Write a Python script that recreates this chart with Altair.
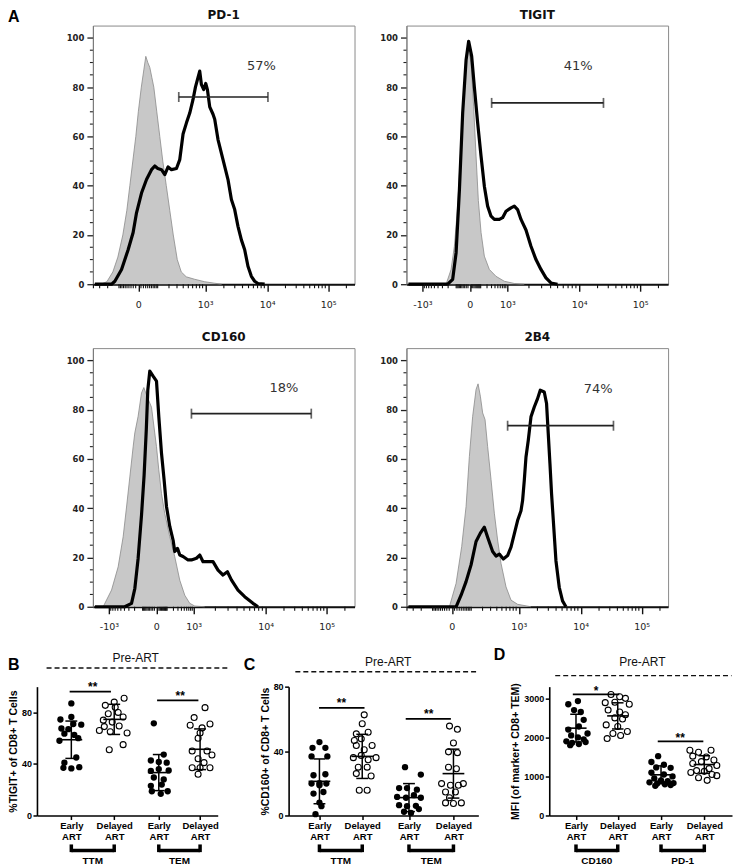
import altair as alt
import pandas as pd
import numpy as np

SANS = "Liberation Sans"
FLOW = "DejaVu Sans"

# ---------------- Panel A: flow histograms (x = display channel of the plot, y = % of max) ----------------
PD1_ISO_CH = [8, 14, 20, 25, 30, 34, 37, 40, 43, 45.5, 48.5, 51, 53, 55, 57, 59, 61, 64, 67, 70, 73.5, 77, 80.5, 84.5, 88.5, 93.5, 102, 112, 122, 129]
PD1_ISO_Y = [0, 1, 5, 11, 20, 30, 40, 50, 60, 70, 80, 87, 92.5, 90, 88, 84, 80, 70, 60, 50, 40, 30, 20, 10, 5, 3, 2, 1, 0.4, 0]
PD1_CH = [2, 18.7, 22, 28.7, 35.3, 40.3, 43.7, 48.7, 53.7, 58.7, 62, 65, 68.7, 72, 75.3, 78.7, 83.7, 87, 90.3, 93.7,
          97, 100.3, 102.7, 105.3, 107, 108.7, 111, 113, 114.7, 117, 120.3, 122, 125.3, 130.3, 135.3, 138.7, 142, 145.3,
          148.7, 152, 155.3, 158.7, 162, 165.3, 172]
PD1_Y = [0, 0, 1.2, 6, 14, 21, 29, 37, 42.5, 46.5, 48, 47, 46.5, 44.5, 47.6, 46.5, 47, 50.6, 61, 65.5,
         69.5, 75, 80, 84, 86.5, 81, 79, 81.5, 79, 72, 69, 67, 58.7, 50.6, 42.5, 34.4, 30.3, 23.5,
         18, 14, 7.3, 3.2, 1.2, 0.3, 0]

TIGIT_ISO_CH = [39.7, 44.7, 48, 51.3, 54, 56.3, 58.7, 61.3, 64.7, 67.3, 69.7, 72, 74.7, 78, 83, 89.7, 98, 108, 118]
TIGIT_ISO_Y = [0, 6, 15.4, 31.7, 52, 72, 86, 96.6, 90, 72, 52, 34, 21, 11.4, 6, 3.2, 1.2, 0.3, 0]
TIGIT_CH = [2, 38, 41.3, 46.3, 49.7, 53, 56.3, 59.7, 62.3, 65.3, 68, 71.3, 74.7, 78, 81.3, 84.7, 88, 93, 96.3, 99.7,
            104.7, 108, 111.3, 114.7, 119.7, 124.7, 129.7, 134.7, 139.7, 144.7, 151.3]
TIGIT_Y = [0, 0, 0, 2, 12.7, 38, 69.5, 91, 98.6, 92.6, 80, 65.5, 52, 39.8, 31.7, 27.6, 26.3, 26.3, 27, 29.6,
           31, 31.7, 30.3, 26.3, 22, 15.4, 10, 6, 2.6, 0.5, 0]

CD160_ISO_CH = [10.3, 18.7, 25.3, 30.3, 33.7, 37, 40.3, 42, 45.3, 48.7, 51, 53.7, 58.7, 63.7, 66, 68.7, 72, 77, 82, 87, 92, 97, 102, 112]
CD160_ISO_Y = [0, 6.8, 16.2, 28.4, 40.5, 52.7, 64.9, 70.6, 77.3, 86.8, 89, 86, 81, 65, 55.6, 46, 37.8, 28.4, 20.3, 10.8, 4.7, 1.4, 0.3, 0]
CD160_CH = [2, 32, 38.7, 42, 45.3, 48.7, 51.3, 53.5, 55, 57, 60.3, 63.7, 66, 68.7, 71.3, 73.7, 77, 80.3, 82, 84.7,
            87, 90.3, 95.3, 98.7, 103.7, 107, 110.3, 115.3, 120.3, 125.3, 130.3, 134.7, 138.7, 145.3, 152, 160.3, 165.3]
CD160_Y = [0, 0, 1.4, 7.4, 19.6, 37.2, 53.4, 72, 88, 95.7, 93.6, 91.6, 77.3, 62.4, 51.6, 40.7, 32.6, 27.1, 22.4, 23.7,
           21, 20.4, 19, 19, 19.7, 21, 18.3, 18.3, 18.3, 14.9, 12.9, 14.2, 10.9, 6.8, 4.1, 1.4, 0]

B4_ISO_CH = [43, 49.7, 55.3, 59.7, 63, 66.3, 69.7, 71.7, 74, 76.3, 78.7, 81.3, 84.7, 88, 91.3, 94.7, 99.7, 104.7, 111.3, 124.7]
B4_ISO_Y = [0, 9.5, 24.4, 40.7, 61, 77.3, 88.2, 90.5, 85.5, 78.7, 76, 65.1, 51.6, 38, 27.1, 17.6, 8.1, 2.7, 1, 0]
B4_CH = [2, 49.7, 54.7, 59.7, 64.7, 69.7, 74, 78, 81.3, 86.3, 89.7, 93, 97, 101.3, 104.7, 108, 111.3, 114.7, 116.3, 118,
         119.7, 122, 124.7, 128, 131.3, 134, 138, 140.3, 142, 143.7, 145.3, 147.3, 149.7, 153, 156.3, 159.7]
B4_Y = [0, 0, 4.7, 10.2, 17, 26.5, 29.9, 32.3, 28.2, 22.4, 20.6, 21.4, 19.4, 20.8, 24.2, 29.6, 35, 39, 43.1, 51.3,
        60.8, 67.6, 77.1, 81.1, 84.5, 87.9, 87.2, 82.5, 70.3, 58.1, 45.9, 33.6, 18.7, 7.9, 2.4, 0]

GATES = {"PD-1": (86, 175.3, 76), "TIGIT": (85.3, 197.3, 73.6), "CD160": (98.7, 218.7, 78.4), "2B4": (101.3, 207.3, 73.5)}
PCTS = {"PD-1": ("57%", 168.7, 88.5), "TIGIT": ("41%", 172, 88.5), "CD160": ("18%", 191.3, 88.9), "2B4": ("74%", 192, 88.5)}

# channel positions of the decade labels on the two display transforms
MAJOR_A = {0: 45.5, 1e3: 112.5, 1e4: 174.5, 1e5: 235.5}
MAJOR_B = {-1e3: 16, 0: 63.5, 1e3: 101, 1e4: 173, 1e5: 234}
SUP = {-1e3: "-10³", 0: "0", 1e3: "10³", 1e4: "10⁴", 1e5: "10⁵"}

# ---------------- Panels B-D: per-group values (dx = horizontal scatter of the dot) ----------------
B_GROUPS = [
    ([0, 0, -11, 2, 10, -10, -3, 7, -7, 3, -7, 5, -8, 0, 8, -12],
     [87, 76.5, 74.5, 71, 70.5, 67.5, 67, 60, 63.5, 62.5, 41, 45, 37, 36.5, 37.5, 58]),
    ([10, 0, -9, 1, 4, -6, 9, -11, -2, 5, -10, -15, -4, 13, 9, -5],
     [91, 88, 85.5, 84, 80, 79, 76.5, 74, 72.5, 69.5, 69, 66, 65, 64, 55, 51]),
    ([-5, 5, -8, 8, 0, -8, 0, 10, -5, 5, -8, 3, -7, 2, 9],
     [71.5, 47.3, 42.7, 41, 41.5, 34.6, 36, 35, 29.5, 28, 23, 24, 18.8, 16.8, 18.8]),
    ([5, -6, 10, -10, 2, 0, -2, -8, 7, -2, 4, -8, 0, 10, -2, 12],
     [83.7, 76, 71, 70, 68, 64, 60, 50, 50, 44, 41, 37, 37, 37, 32, 47]),
]
B_MEAN = [58.8, 74.6, 33.3, 51.4]
B_SD = [14.5, 11.7, 14.0, 15.8]

C_GROUPS = [
    ([0, -7, 6, -8, 0, 8, -6, 6, -8, 0, 7, -6, 4, 2, -4, 0],
     [45.6, 42, 42, 36.7, 20, 36.7, 25, 25.6, 19.8, 18.8, 19.8, 13.6, 14.6, 5.8, 0.8, 8]),
    ([2, 0, -6, 6, -8, -1, 10, -6, 2, -9, -1, 6, 14, -4, 5, -6, 9, -3, 5],
     [62.5, 57, 50.7, 51.7, 46.6, 47.6, 43.5, 43.5, 40.8, 35.9, 37.3, 34.6, 35.9, 30, 30, 26, 24.5, 15.7, 15.7]),
    ([-4, 12, -10, -2, 8, -12, -3, 5, 12, -10, -2, 7, -5, 2, 10],
     [30, 25.4, 17, 17, 16, 11.5, 11, 12.6, 11, 6.4, 5.8, 6, 2.3, 1.6, 4]),
    ([-4, 4, 0, -5, 4, -5, 3, -12, -3, 5, 10, -8, 2, -4, -8, 0, 8],
     [55.5, 53.5, 45, 39.5, 39, 30, 29, 19.8, 18.8, 18.8, 19.8, 14.6, 14.6, 11, 7.8, 7.4, 7.8]),
]
C_MEAN = [21.2, 36.7, 11.1, 26.0]
C_SD = [13.9, 13.7, 8.7, 15.2]

D_GROUPS = [
    ([2, -8, -2, 5, 8, 3, -8, -5, 2, 8, -10, -4, 3, -6, 10, 12],
     [2930, 2850, 2700, 2650, 2450, 2280, 2200, 2050, 2000, 1950, 1900, 1860, 1830, 1800, 1880, 2100]),
    ([-7, 2, 8, -13, -3, 12, -10, 2, 8, -3, 5, -12, 0, 10, -5, 3, -11],
     [3100, 3040, 3000, 2890, 2900, 2850, 2700, 2650, 2580, 2500, 2470, 2320, 2280, 2150, 2100, 2050, 1970]),
    ([-3, -10, 3, -5, 10, -10, 3, 12, -7, 0, 7, -12, -4, 4, 10, -6, 13],
     [1520, 1370, 1300, 1230, 1220, 1100, 1050, 1000, 950, 900, 880, 850, 820, 800, 780, 760, 830]),
    ([-15, -6, 7, -12, 2, 10, -3, -12, 13, 5, -8, -14, 8, -6, 3, 13, 0],
     [1670, 1620, 1670, 1520, 1500, 1420, 1380, 1330, 1280, 1200, 1150, 1100, 1050, 966, 900, 1020, 1130]),
]
D_MEAN = [2237, 2551, 1042, 1305]
D_SD = [356, 335, 229, 225]

GROUP_LABELS = [["Early", "ART"], ["Delayed", "ART"], ["Early", "ART"], ["Delayed", "ART"]]

# ---------------- layout constants ----------------
HW, HH = 262, 259
DH = 129


def flow_minor(major):
    p0 = major[0]
    up = major[1e3] - p0
    dn = (p0 - major[-1e3]) if -1e3 in major else up
    pos = []
    for base in (10, 100):
        for k in range(1, 10):
            r = np.log1p(k * base / 100) / np.log1p(10)
            pos.append(p0 + up * r)
            pos.append(p0 - dn * r)
    for e in (3, 4):
        for k in range(2, 10):
            pos.append(major[10 ** e] + (major[10 ** (e + 1)] - major[10 ** e]) * np.log10(k))
    pos.append(major[1e5] + (major[1e5] - major[1e4]) * np.log10(2))
    if -1e3 in major:
        for k in range(2, 10):
            pos.append(major[-1e3] - (major[1e4] - major[1e3]) * np.log10(k))
    majors = {round(v, 2) for v in major.values()}
    return [round(float(p), 2) for p in pos if 0.5 < p < HW - 0.5 and round(float(p), 2) not in majors]


def flow_x_axis(major):
    keys = list(major.keys())
    mp = [round(float(major[k]), 2) for k in keys]
    arr = "[" + ",".join(repr(p) for p in mp) + "]"
    labs = "[" + ",".join("'" + SUP[k] + "'" for k in keys) + "]"
    return alt.Axis(values=mp, labelExpr=f"{labs}[indexof({arr}, datum.value)]",
                    tickSize=7, tickColor="#111", tickWidth=1.4, domainColor="#111", domainWidth=2,
                    labelFont=FLOW, labelFontSize=9.5, labelColor="#222", labelPadding=8,
                    labelOverlap=False, labelFlush=False, grid=False)


def hist_y_axis():
    return alt.Axis(values=[0, 20, 40, 60, 80, 100], tickSize=6, tickColor="#222", tickWidth=1.3,
                    domainColor="#777", domainWidth=1,
                    labelFont=FLOW, labelFontSize=8.5, labelFontWeight="bold", labelColor="#222",
                    labelPadding=3, labelOverlap=False, labelFlush=False, grid=False)


def hist_panel(title, major, iso_ch, iso_y, st_ch, st_y):
    xs = alt.Scale(domain=[0, HW], nice=False, zero=False)
    ys = alt.Scale(domain=[0, 105], nice=False, zero=False)
    iso = pd.DataFrame({"ch": iso_ch, "pct": iso_y})
    st = pd.DataFrame({"ch": st_ch, "pct": st_y})
    area = alt.Chart(iso).mark_area(color="#c8c8c8", opacity=1,
                                    line={"color": "#8a8a8a", "strokeWidth": 0.8}).encode(
        x=alt.X("ch:Q", scale=xs, axis=flow_x_axis(major), title=None),
        y=alt.Y("pct:Q", scale=ys, axis=hist_y_axis(), title=None))
    line = alt.Chart(st).mark_line(color="#000", strokeWidth=3.2, strokeJoin="round").encode(
        x=alt.X("ch:Q", title=None), y=alt.Y("pct:Q", title=None))
    xm = pd.DataFrame({"x": flow_minor(major)})
    xminor = alt.Chart(xm).mark_rule(color="#111", strokeWidth=1.1).encode(
        x=alt.X("x:Q", title=None), y=alt.value(HH), y2=alt.value(HH + 4))
    ym = pd.DataFrame({"y": [v for v in range(5, 101, 5) if v % 20]})
    yminor = alt.Chart(ym).mark_rule(color="#222", strokeWidth=1.1).encode(
        y=alt.Y("y:Q", title=None), x=alt.value(0), x2=alt.value(-3))
    lo, hi, gy = GATES[title]
    gdf = pd.DataFrame({"lo": [lo], "hi": [hi], "y": [gy]})
    bar = alt.Chart(gdf).mark_rule(color="#222", strokeWidth=1.7).encode(
        x=alt.X("lo:Q", title=None), x2="hi:Q", y=alt.Y("y:Q", title=None))
    cdf = pd.DataFrame({"x": [lo, hi], "y": [gy, gy]})
    caps = alt.Chart(cdf).mark_tick(color="#222", thickness=1.7, size=10, orient="vertical").encode(
        x=alt.X("x:Q", title=None), y=alt.Y("y:Q", title=None))
    txt, tx, ty = PCTS[title]
    tdf = pd.DataFrame({"t": [txt], "x": [tx], "y": [ty]})
    label = alt.Chart(tdf).mark_text(font=FLOW, fontSize=13, color="#333").encode(
        x=alt.X("x:Q", title=None), y=alt.Y("y:Q", title=None), text="t:N")
    return alt.layer(area, line, xminor, yminor, bar, caps, label).properties(
        width=HW, height=HH,
        title=alt.TitleParams(title, font=FLOW, fontSize=12, fontWeight="bold", color="#111",
                              anchor="middle", offset=4, frame="group"),
        view=alt.ViewBackground(stroke="#8a8a8a", strokeWidth=1))


def dot_panel(Wref, Wact, ymax, yvals, yfmt, ytitle, gx, names, groups, means, sds, sig,
              letter, lxy, pre_xy, dash):
    xs = alt.Scale(domain=[0, Wref], nice=False, zero=False)
    ys = alt.Scale(domain=[0, ymax], nice=False, zero=False)
    recs = []
    for g, (dxs, vs) in enumerate(groups):
        for dx, v in zip(dxs, vs):
            recs.append({"x": gx[g] + dx, "v": v, "filled": g % 2 == 0})
    pts = pd.DataFrame(recs)
    gx_arr = "[" + ",".join(repr(float(p)) for p in gx) + "]"
    lab_arr = "[" + ",".join("['%s','%s']" % tuple(l) for l in GROUP_LABELS) + "]"
    xaxis = alt.Axis(values=[float(p) for p in gx], labelExpr=f"{lab_arr}[indexof({gx_arr}, datum.value)]",
                     tickSize=4, tickWidth=1.5, tickColor="#000", domainColor="#000", domainWidth=1.6,
                     labelFont=SANS, labelFontSize=9.5, labelFontWeight="bold", labelColor="#000",
                     labelPadding=1, labelLineHeight=11, labelOverlap=False, labelFlush=False, grid=False)
    yaxis = alt.Axis(values=yvals, format=yfmt, tickSize=4, tickWidth=1.5, tickColor="#000",
                     domainColor="#000", domainWidth=1.6, labelFont=SANS, labelFontSize=9,
                     labelFontWeight="bold", labelColor="#000", labelPadding=1.5, labelOverlap=False,
                     labelFlush=False, titleFont=SANS, titleFontSize=10.5, titleFontWeight="bold",
                     titleColor="#000", titlePadding=3, grid=False)
    filled = alt.Chart(pts[pts["filled"]]).mark_point(shape="circle", filled=True, color="#000", size=40,
                                                      opacity=1).encode(
        x=alt.X("x:Q", scale=xs, axis=xaxis, title=None),
        y=alt.Y("v:Q", scale=ys, axis=yaxis, title=ytitle))
    hollow = alt.Chart(pts[~pts["filled"]]).mark_point(shape="circle", filled=False, color="#000", size=36,
                                                       strokeWidth=1.1, opacity=1).encode(
        x=alt.X("x:Q", title=None), y=alt.Y("v:Q", title=ytitle))
    st = pd.DataFrame({"x": gx, "m": means, "sd": sds})
    st["lo"] = st["m"] - st["sd"]
    st["hi"] = st["m"] + st["sd"]
    st["ml"] = st["x"] - 11
    st["mr"] = st["x"] + 11
    st["cl"] = st["x"] - 6
    st["cr"] = st["x"] + 6
    base = alt.Chart(st)
    mean_l = base.mark_rule(color="#000", strokeWidth=1.6).encode(
        x=alt.X("ml:Q", title=None), x2="mr:Q", y=alt.Y("m:Q", title=ytitle))
    sd_l = base.mark_rule(color="#000", strokeWidth=1.5).encode(
        x=alt.X("x:Q", title=None), y=alt.Y("lo:Q", title=ytitle), y2="hi:Q")
    cap_lo = base.mark_rule(color="#000", strokeWidth=1.5).encode(
        x=alt.X("cl:Q", title=None), x2="cr:Q", y=alt.Y("lo:Q", title=ytitle))
    cap_hi = base.mark_rule(color="#000", strokeWidth=1.5).encode(
        x=alt.X("cl:Q", title=None), x2="cr:Q", y=alt.Y("hi:Q", title=ytitle))
    sdf = pd.DataFrame(sig, columns=["a", "b", "y", "sx", "sy", "s"])
    sig_bar = alt.Chart(sdf).mark_rule(color="#000", strokeWidth=1.8).encode(
        x=alt.X("a:Q", title=None), x2="b:Q", y=alt.Y("y:Q", title=ytitle))
    sig_txt = alt.Chart(sdf).mark_text(font=SANS, fontSize=12, fontWeight="bold", color="#000", dy=3).encode(
        x=alt.X("sx:Q", title=None), y=alt.Y("sy:Q", title=ytitle), text="s:N")
    bdf = pd.DataFrame({"a": [gx[0], gx[2]], "b": [gx[1], gx[3]], "name": names,
                        "c": [(gx[0] + gx[1]) / 2, (gx[2] + gx[3]) / 2]})
    br_h = alt.Chart(bdf).mark_rule(color="#000", strokeWidth=3.5).encode(
        x=alt.X("a:Q", title=None), x2="b:Q", y=alt.value(DH + 35))
    edf = pd.DataFrame({"x": gx})
    br_v = alt.Chart(edf).mark_rule(color="#000", strokeWidth=3.5).encode(
        x=alt.X("x:Q", title=None), y=alt.value(DH + 29), y2=alt.value(DH + 36.7))
    br_t = alt.Chart(bdf).mark_text(font=SANS, fontSize=10, fontWeight="bold", color="#000").encode(
        x=alt.X("c:Q", title=None), y=alt.value(DH + 46), text="name:N")
    pdf = pd.DataFrame({"t": ["Pre-ART"], "x": [pre_xy[0]], "a": [dash[0]], "b": [dash[1]]})
    pre_t = alt.Chart(pdf).mark_text(font=SANS, fontSize=12, color="#111").encode(
        x=alt.X("x:Q", title=None), y=alt.value(pre_xy[1]), text="t:N")
    pre_l = alt.Chart(pdf).mark_rule(color="#111", strokeWidth=1.4, strokeDash=[5, 3]).encode(
        x=alt.X("a:Q", title=None), x2="b:Q", y=alt.value(dash[2]))
    let = alt.Chart(pd.DataFrame({"t": [letter]})).mark_text(
        font=SANS, fontSize=16, fontWeight="bold", align="left", baseline="alphabetic", color="#000").encode(
        text="t:N", x=alt.value(lxy[0]), y=alt.value(lxy[1]))
    return alt.layer(filled, hollow, mean_l, sd_l, cap_lo, cap_hi, sig_bar, sig_txt,
                     br_h, br_v, br_t, pre_t, pre_l, let).properties(width=Wact, height=DH)


def spacer(w, h, letter, color, y):
    dot = alt.Chart(pd.DataFrame({"v": [0]})).mark_point(opacity=0, size=1).encode(
        x=alt.X("v:Q", axis=None, scale=alt.Scale(domain=[0, 1])),
        y=alt.Y("v:Q", axis=None, scale=alt.Scale(domain=[0, 1])))
    txt = alt.Chart(pd.DataFrame({"t": [letter]})).mark_text(
        font=SANS, fontSize=16, fontWeight="bold", align="left", baseline="alphabetic", color=color).encode(
        text="t:N", x=alt.value(-29), y=alt.value(y))
    return alt.layer(dot, txt).properties(width=w, height=h)


pd1 = hist_panel("PD-1", MAJOR_A, PD1_ISO_CH, PD1_ISO_Y, PD1_CH, PD1_Y)
tigit = hist_panel("TIGIT", MAJOR_B, TIGIT_ISO_CH, TIGIT_ISO_Y, TIGIT_CH, TIGIT_Y)
cd160 = hist_panel("CD160", MAJOR_B, CD160_ISO_CH, CD160_ISO_Y, CD160_CH, CD160_Y)
b4 = hist_panel("2B4", MAJOR_A, B4_ISO_CH, B4_ISO_Y, B4_CH, B4_Y)

panel_b = dot_panel(182.5, 181, 100, [0, 20, 40, 60, 80, 100], "d", "%TIGIT+ of CD8+ T Cells",
                    [34.7, 78.0, 123.0, 164.7], ["TTM", "TEM"], B_GROUPS, B_MEAN, B_SD,
                    [(33, 74.7, 96.2, 56.3, 102, "**"), (121.3, 163, 89.3, 144.7, 95, "**")],
                    "B", (-29, -17), (99.7, -28.3), (9.7, 194.7, -18.7))
panel_c = dot_panel(192, 190, 80, [0, 20, 40, 60, 80], "d", "%CD160+ of CD8+ T Cells",
                    [31.2, 74.5, 121.8, 166.8], ["TTM", "TEM"], C_GROUPS, C_MEAN, C_SD,
                    [(30.8, 76.8, 66.8, 53.5, 71.5, "**"), (118.5, 164.2, 60, 141.8, 65, "**")],
                    "C", (-44.8, -17), (100.8, -25), (6.8, 191.8, -15))
panel_d = dot_panel(190, 183, 3300, [0, 500, 1000, 1500, 2000, 2500, 3000], "d", "MFI (of marker+ CD8+ TEM)",
                    [27.8, 71.2, 116.2, 161.2], ["CD160", "PD-1"], D_GROUPS, D_MEAN, D_SD,
                    [(24.5, 72.8, 3102, 48.8, 3270, "*"), (112.8, 160.2, 1898, 136.2, 2068, "**")],
                    "D", (-55.5, -27), (96.8, -25), (6.2, 189.5, -11))

row1 = alt.hconcat(spacer(4, HH, "A", "#000", -4), pd1, tigit, spacing=52, bounds="flush")
row2 = alt.hconcat(spacer(4, HH, "A", "#fff", -11), cd160, b4, spacing=52, bounds="flush")
row3 = alt.hconcat(panel_b, panel_c, panel_d, spacing=71, bounds="flush")

chart = alt.vconcat(row1, row2, row3, spacing=15,
                    padding={"left": 0, "top": -1, "right": 0, "bottom": 0}).configure_view(strokeWidth=0)

chart.save("out.html", embed_options={"renderer": "svg", "actions": False})
